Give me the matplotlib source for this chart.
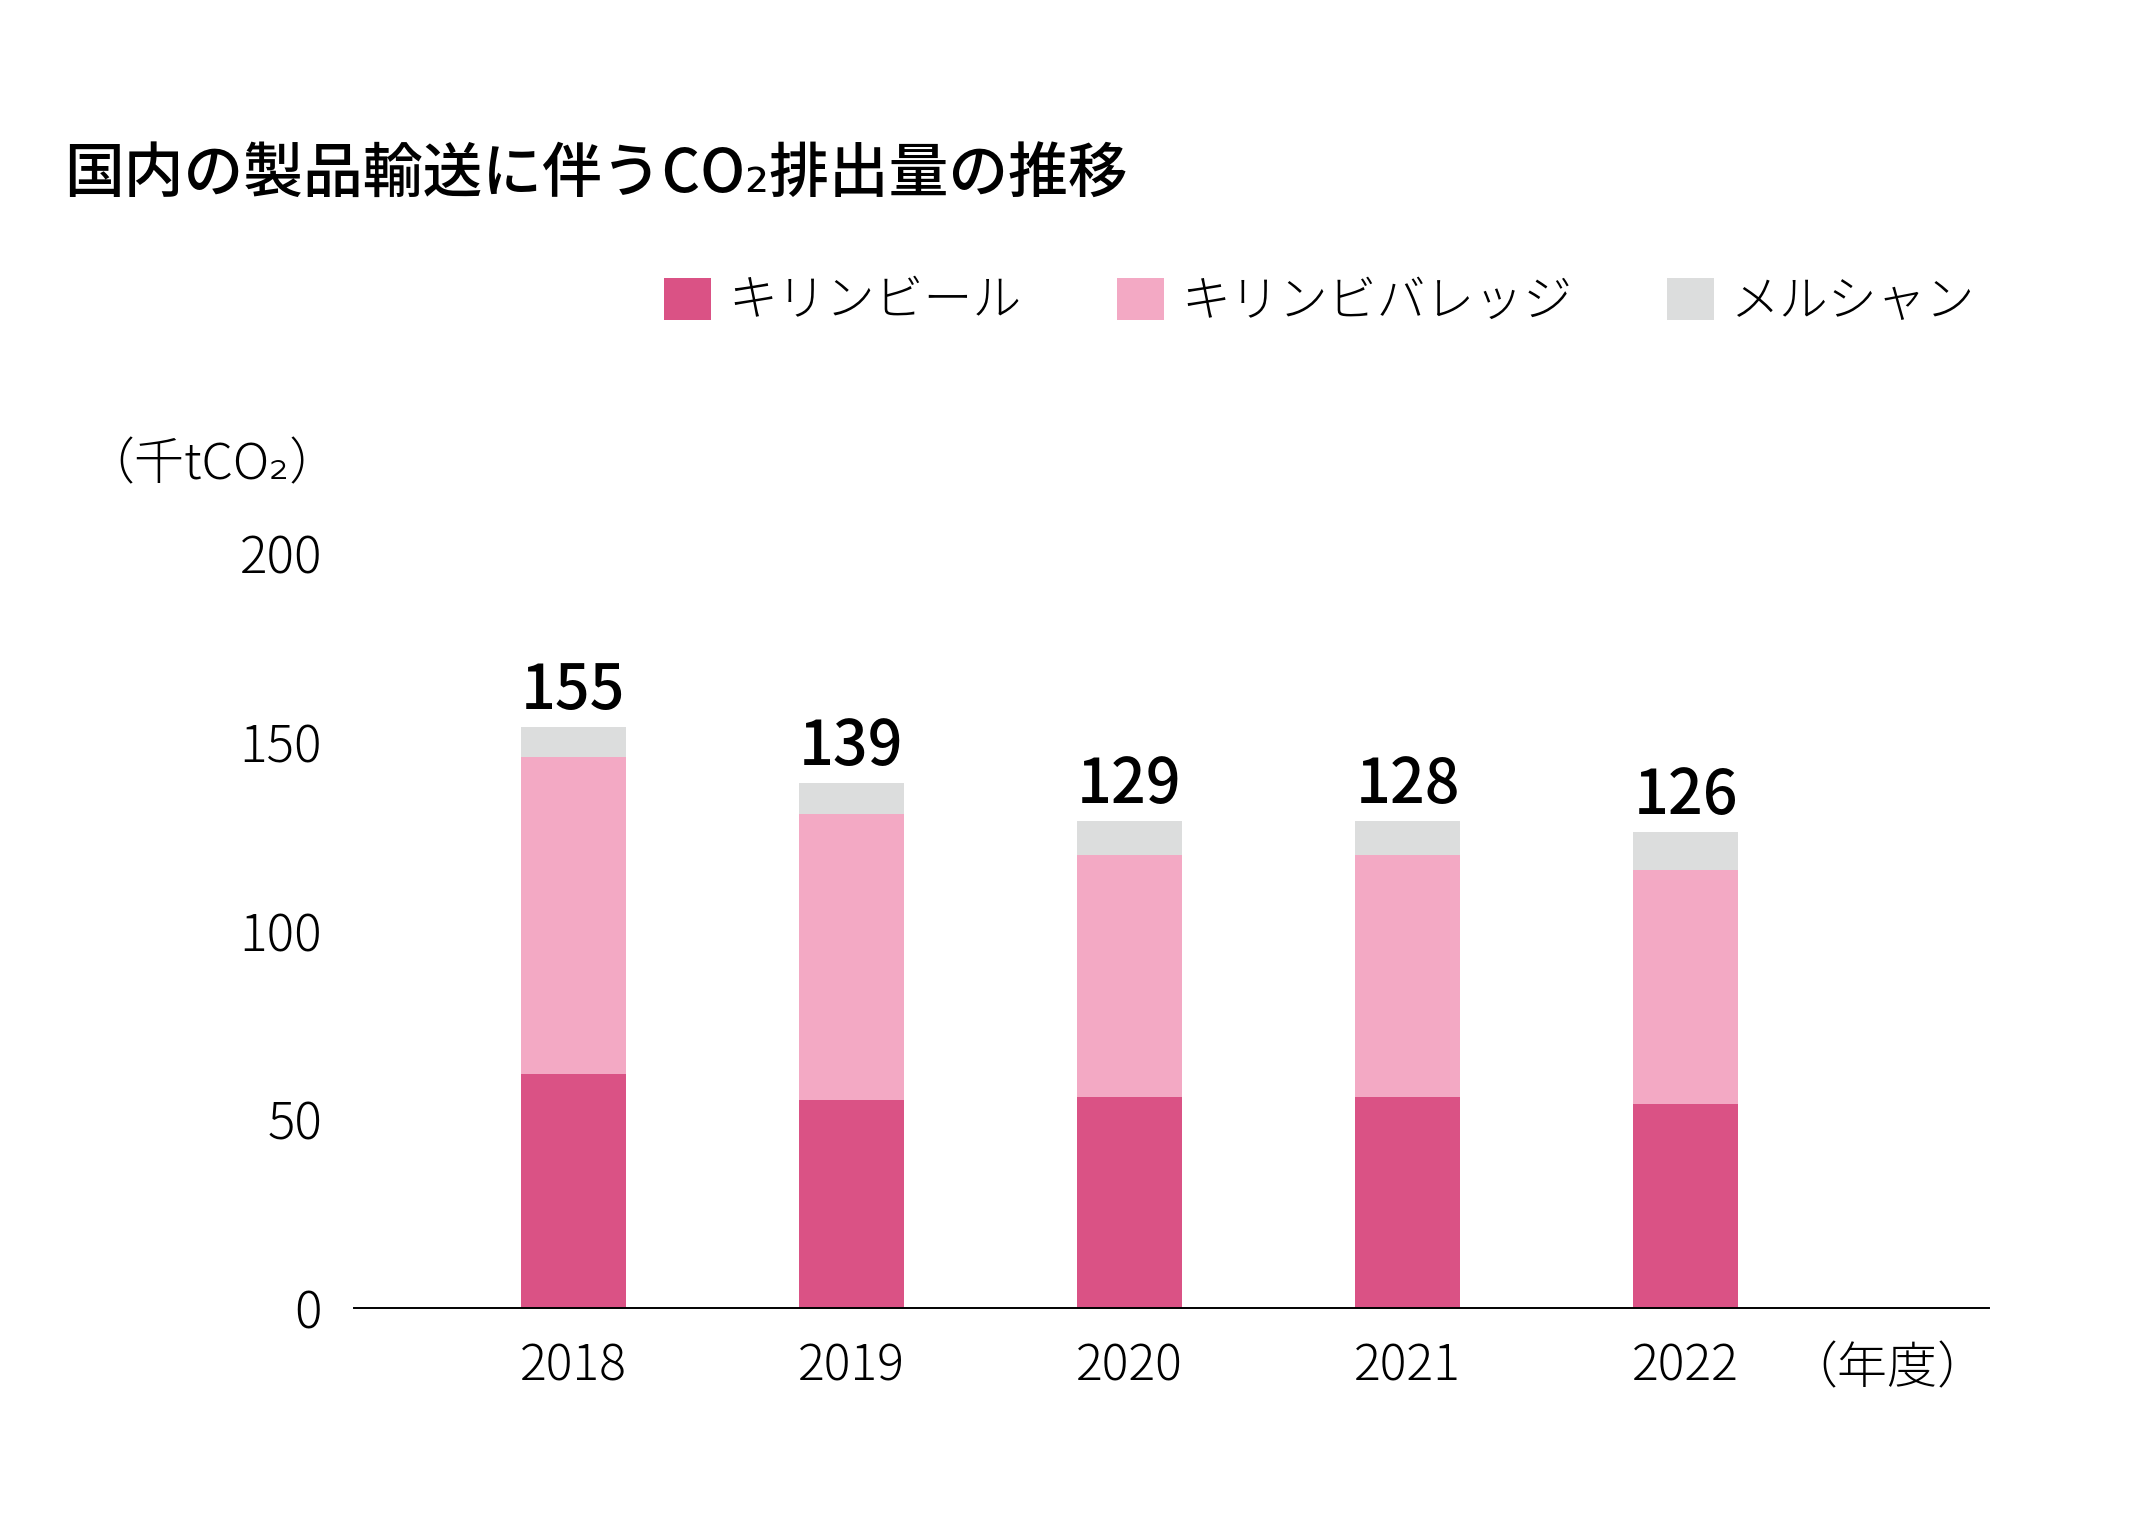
import matplotlib
matplotlib.use("Agg")
import matplotlib.pyplot as plt
from matplotlib.patches import Patch
import numpy as np

plt.rcParams['font.family'] = ['Noto Sans CJK JP', 'DejaVu Sans']

# data (thousand tCO2)
years = ["2018", "2019", "2020", "2021", "2022"]
kirin_beer = [62, 55, 56, 56, 54]
kirin_beverage = [84, 76, 64, 64, 62]
mercian = [8, 8, 9, 9, 10]
totals = [155, 139, 129, 128, 126]
series_names = ["キリンビール", "キリンビバレッジ", "メルシャン"]
colors = ["#DA5285", "#F3A9C4", "#DCDDDD"]

fig = plt.figure(figsize=(10.645, 7.645), dpi=200)
ax = fig.add_axes([0.1663, 0.1445, 0.7679, 0.4938])

x = np.arange(len(years))
width = 0.378
bottom = np.zeros(len(years))
for vals, c in zip([kirin_beer, kirin_beverage, mercian], colors):
    ax.bar(x, vals, width, bottom=bottom, color=c, linewidth=0)
    bottom += np.array(vals)

# total labels on top of each stack
for xi, top, t in zip(x, bottom, totals):
    ax.annotate(str(t), (xi, top), xytext=(0, 1.5), textcoords="offset points",
                ha="center", va="bottom", fontsize=22, fontweight="medium")

ax.set_xlim(-0.788, 5.09)
ax.set_ylim(0, 200)
ax.set_yticks([0, 50, 100, 150, 200])
ax.set_xticks(x)
ax.set_xticklabels(years)
for s in ["top", "right", "left"]:
    ax.spines[s].set_visible(False)
ax.spines["bottom"].set_linewidth(0.7)
ax.tick_params(axis="y", length=0, pad=11.5, labelsize=18.5)
ax.tick_params(axis="x", length=0, pad=12, labelsize=18)
for lab in ax.get_xticklabels() + ax.get_yticklabels():
    lab.set_fontweight("light")

fig.text(0.8866, 0.1045, "（年度）", ha="center", va="center",
         fontsize=18, fontweight="light")

fig.text(0.030, 0.8855, "国内の製品輸送に伴うCO₂排出量の推移", fontsize=21.5,
         fontweight="medium", ha="left", va="center")
fig.text(0.0397, 0.6955, "（千tCO₂）", fontsize=18, fontweight="light",
         ha="left", va="center")

handles = [Patch(facecolor=c, edgecolor="none") for c in colors]
leg = fig.legend(handles, series_names, loc="center left", bbox_to_anchor=(0.312, 0.8025),
                 ncol=3, frameon=False, fontsize=17.6, handlelength=0.96,
                 handleheight=0.96, handletextpad=0.35, columnspacing=1.95,
                 borderpad=0, borderaxespad=0)
for t in leg.get_texts():
    t.set_fontweight("light")

fig.savefig("out.png", dpi=200, facecolor="white")
